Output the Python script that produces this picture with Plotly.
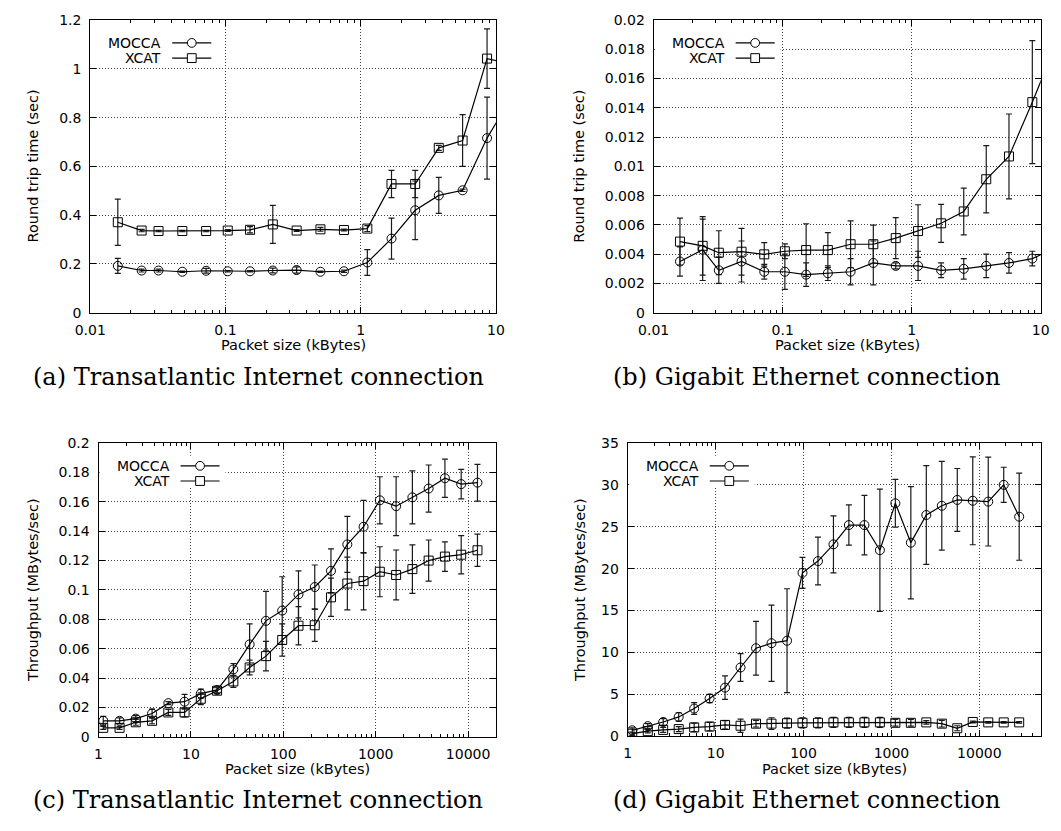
import math
import plotly.graph_objects as go

# ---------------------------------------------------------------- data
# packet sizes (kBytes) for the round-trip-time measurements
size_rtt = [0.016, 0.024, 0.032, 0.048, 0.072, 0.104, 0.152, 0.224, 0.336,
            0.504, 0.752, 1.12, 1.69, 2.53, 3.78, 5.67, 8.6, 12.9]

# (a) transatlantic internet: round trip time (sec)
rtt_mocca_a = [0.192, 0.173, 0.173, 0.168, 0.172, 0.170, 0.170, 0.173, 0.175,
               0.168, 0.170, 0.206, 0.304, 0.420, 0.481, 0.502, 0.716, 0.88]
err_mocca_a = [0.031, 0.006, 0.006, 0.003, 0.010, 0.003, 0.003, 0.010, 0.013,
               0.003, 0.005, 0.053, 0.084, 0.120, 0.074, 0.005, 0.168, 0.10]
rtt_xcat_a = [0.371, 0.337, 0.335, 0.335, 0.335, 0.337, 0.340, 0.362, 0.337,
              0.342, 0.339, 0.345, 0.528, 0.528, 0.676, 0.706, 1.042, 1.02]
err_xcat_a = [0.095, 0.005, 0.003, 0.003, 0.003, 0.004, 0.013, 0.078, 0.004,
              0.008, 0.004, 0.012, 0.056, 0.056, 0.010, 0.106, 0.122, 0.10]

# (b) gigabit ethernet: round trip time (sec)
rtt_mocca_b = [0.0035, 0.0043, 0.0029, 0.0035, 0.0028, 0.0028, 0.0026, 0.0027,
               0.0028, 0.0034, 0.0032, 0.0032, 0.0029, 0.0030, 0.0032, 0.0034,
               0.0037, 0.0044]
err_mocca_b = [0.0010, 0.0021, 0.0009, 0.0014, 0.0005, 0.0012, 0.0008, 0.0005,
               0.0009, 0.0015, 0.0002, 0.0010, 0.0005, 0.0007, 0.0008, 0.0007,
               0.0005, 0.0005]
rtt_xcat_b = [0.00486, 0.00457, 0.00410, 0.00417, 0.00399, 0.00420, 0.00428,
              0.00428, 0.00468, 0.00468, 0.00510, 0.00558, 0.00611, 0.00692,
              0.00912, 0.01068, 0.01439, 0.0182]
err_xcat_b = [0.0016, 0.0020, 0.0015, 0.0016, 0.0008, 0.0005, 0.0018, 0.0012,
              0.0016, 0.0013, 0.0014, 0.0018, 0.0013, 0.0016, 0.0023, 0.0029,
              0.0042, 0.0030]

# packet sizes (kBytes) for the throughput measurements
size_thr_c = [1.125, 1.69, 2.53, 3.8, 5.7, 8.54, 12.8, 19.2, 28.8, 43.2, 64.9,
              97.3, 146, 219, 328, 493, 739, 1108, 1663, 2494, 3741, 5612,
              8418, 12627]
size_thr_d = size_thr_c + [18941, 28412]

# (c) transatlantic internet: throughput (MBytes/sec)
thr_mocca_c = [0.011, 0.011, 0.0125, 0.016, 0.023, 0.024, 0.0295, 0.032, 0.046,
               0.063, 0.079, 0.086, 0.097, 0.102, 0.113, 0.131, 0.143, 0.161,
               0.157, 0.163, 0.169, 0.176, 0.172, 0.173]
err_mocca_c = [0.003, 0.002, 0.002, 0.003, 0.001, 0.005, 0.003, 0.002, 0.004,
               0.014, 0.020, 0.023, 0.016, 0.015, 0.015, 0.019, 0.018, 0.016,
               0.020, 0.018, 0.016, 0.013, 0.010, 0.0125]
thr_xcat_c = [0.0062, 0.0062, 0.010, 0.011, 0.0167, 0.0167, 0.026, 0.0315,
              0.0378, 0.0473, 0.055, 0.066, 0.0757, 0.076, 0.095, 0.1044, 0.106,
              0.1124, 0.1102, 0.1142, 0.120, 0.1227, 0.124, 0.127]
err_xcat_c = [0.001, 0.001, 0.002, 0.002, 0.002, 0.003, 0.004, 0.002, 0.004,
              0.005, 0.010, 0.011, 0.013, 0.011, 0.013, 0.018, 0.0195, 0.017,
              0.017, 0.0165, 0.014, 0.010, 0.013, 0.011]

# (d) gigabit ethernet: throughput (MBytes/sec)
thr_mocca_d = [0.7, 1.2, 1.7, 2.3, 3.3, 4.5, 5.8, 8.2, 10.5, 11.1, 11.4, 19.5,
               20.9, 22.9, 25.2, 25.2, 22.2, 27.8, 23.1, 26.4, 27.5, 28.2, 28.1,
               28.0, 30.0, 26.2]
err_mocca_d = [0.3, 0.3, 0.4, 0.5, 0.7, 0.5, 1.4, 1.65, 3.2, 4.55, 6.2, 1.85,
               2.85, 3.4, 2.4, 3.55, 7.3, 2.85, 6.7, 5.9, 5.3, 3.75, 5.25, 5.3,
               2.1, 5.2]
thr_xcat_d = [0.3, 0.6, 0.75, 0.85, 1.05, 1.15, 1.35, 1.25, 1.5, 1.5, 1.55, 1.6,
              1.6, 1.65, 1.65, 1.65, 1.65, 1.6, 1.6, 1.65, 1.5, 0.95, 1.7, 1.65,
              1.65, 1.65]
err_xcat_d = [0.2, 0.2, 0.3, 0.3, 0.5, 0.5, 0.5, 0.8, 0.4, 0.7, 0.6, 0.6, 0.6,
              0.6, 0.6, 0.6, 0.6, 0.4, 0.4, 0.2, 0.4, 0.3, 0.1, 0.1, 0.1, 0.1]

# tick labels
xt_rtt = ["0.01", "0.1", "1", "10"]
xt_thr = ["1", "10", "100", "1000", "10000"]
yt_a = ["0", "0.2", "0.4", "0.6", "0.8", "1", "1.2"]
yt_b = ["0", "0.002", "0.004", "0.006", "0.008", "0.01", "0.012", "0.014",
        "0.016", "0.018", "0.02"]
yt_c = ["0", "0.02", "0.04", "0.06", "0.08", "0.1", "0.12", "0.14", "0.16",
        "0.18", "0.2"]
yt_d = ["0", "5", "10", "15", "20", "25", "30", "35"]

series_names = ["MOCCA", "XCAT"]
captions = ["(a) Transatlantic Internet connection",
            "(b) Gigabit Ethernet connection",
            "(c) Transatlantic Internet connection",
            "(d) Gigabit Ethernet connection"]
xtitle = "Packet size (kBytes)"
ytitle_rtt = "Round trip time (sec)"
ytitle_thr = "Throughput (MBytes/sec)"

# ---------------------------------------------------------------- layout
W, H = 1061, 831
SANS = "DejaVu Sans"
SERIF = "DejaVu Serif"


def fx(p):
    return p / W


def fy(p):
    return 1 - p / H


# plot-area boxes in pixels: left, right, top, bottom
boxes = {
    "a": (76.0, 491.5, 12.3, 310.7),
    "b": (653.0, 1049.5, 12.3, 310.7),
    "c": (84.5, 491.5, 443.5, 743.3),
    "d": (626.5, 1049.5, 443.5, 742.5),
}

panels = [
    dict(key="a", x=size_rtt, ys=[(rtt_mocca_a, err_mocca_a), (rtt_xcat_a, err_xcat_a)],
         xrange=[-2, 1], xtv=[0.01, 0.1, 1, 10], xtt=xt_rtt,
         yrange=[0, 1.2], ytt=yt_a, ytitle=ytitle_rtt, ytx=17.5),
    dict(key="b", x=size_rtt, ys=[(rtt_mocca_b, err_mocca_b), (rtt_xcat_b, err_xcat_b)],
         xrange=[-2, 1], xtv=[0.01, 0.1, 1, 10], xtt=xt_rtt,
         yrange=[0, 0.02], ytt=yt_b, ytitle=ytitle_rtt, ytx=577),
    dict(key="c", x=size_thr_c, ys=[(thr_mocca_c, err_mocca_c), (thr_xcat_c, err_xcat_c)],
         xrange=[0, 4.30103], xtv=[1, 10, 100, 1000, 10000], xtt=xt_thr,
         yrange=[0, 0.2], ytt=yt_c, ytitle=ytitle_thr, ytx=17.5),
    dict(key="d", x=size_thr_d, ys=[(thr_mocca_d, err_mocca_d), (thr_xcat_d, err_xcat_d)],
         xrange=[0, 4.69897], xtv=[1, 10, 100, 1000, 10000], xtt=xt_thr,
         yrange=[0, 35], ytt=yt_d, ytitle=ytitle_thr, ytx=577),
]
caption_pos = [(248, 376), (810, 376), (248, 808), (810, 808)]

symbols = ["circle-open", "square-open"]
grid_dash = "1px,2px"

fig = go.Figure()
layout = dict(
    width=W, height=H, margin=dict(l=0, r=0, t=0, b=0),
    paper_bgcolor="white", plot_bgcolor="white", showlegend=False,
    font=dict(family=SANS, size=14, color="black"),
)
shapes, annotations = [], []

for i, p in enumerate(panels):
    n = "" if i == 0 else str(i + 1)
    L, R, T, B = boxes[p["key"]]
    xa, ya = "x" + n, "y" + n

    for (vals, errs), sym, name in zip(p["ys"], symbols, series_names):
        fig.add_trace(go.Scatter(
            x=p["x"], y=vals, name=name, xaxis=xa, yaxis=ya,
            mode="lines+markers",
            line=dict(color="black", width=1.2),
            marker=dict(symbol=sym, size=9, color="black",
                        line=dict(color="black", width=1)),
            error_y=dict(type="data", array=errs, visible=True,
                         color="#1a1a1a", thickness=1.2, width=3),
        ))

    lo, hi = p["xrange"]
    minor_vals = [m * 10 ** e for e in range(int(lo) - 1, int(hi) + 2)
                  for m in range(2, 10)
                  if lo <= e + math.log10(m) <= hi]
    ystep = (p["yrange"][1] - p["yrange"][0]) / (len(p["ytt"]) - 1)
    ytv = [p["yrange"][0] + k * ystep for k in range(len(p["ytt"]))]

    common = dict(
        showline=True, linecolor="black", linewidth=1, mirror="allticks",
        ticks="inside", ticklen=6, tickcolor="black", tickwidth=1,
        showgrid=True, gridcolor="#444", gridwidth=1, griddash=grid_dash,
        zeroline=False, tickmode="array",
        tickfont=dict(family=SANS, size=14, color="black"),
    )
    layout["xaxis" + n] = dict(
        common, type="log", range=p["xrange"], domain=[fx(L), fx(R)],
        anchor=ya, tickvals=p["xtv"], ticktext=p["xtt"], ticklabelstandoff=4,
        minor=dict(tickmode="array", tickvals=minor_vals, ticks="inside",
                   ticklen=3, tickcolor="black", showgrid=False),
    )
    layout["yaxis" + n] = dict(
        common, range=p["yrange"], domain=[fy(B), fy(T)], anchor=xa,
        tickvals=ytv, ticktext=p["ytt"], ticklabelstandoff=5,
    )

    # axis titles
    annotations.append(dict(text=xtitle, xref="paper", yref="paper",
                            x=fx((L + R) / 2), y=fy(B + 33), showarrow=False,
                            xanchor="center", yanchor="middle",
                            font=dict(family=SANS, size=14.5)))
    annotations.append(dict(text=p["ytitle"], xref="paper", yref="paper",
                            x=fx(p["ytx"]), y=fy((T + B) / 2), showarrow=False,
                            textangle=-90, xanchor="center", yanchor="middle",
                            font=dict(family=SANS, size=14.5)))

    # key box in the upper-left corner
    shapes.append(dict(type="rect", xref="paper", yref="paper", layer="above",
                       x0=fx(L + 1), x1=fx(L + 130), y0=fy(T + 46), y1=fy(T + 13),
                       fillcolor="white", line=dict(width=0)))
    for r, (name, sym) in enumerate(zip(series_names, symbols)):
        yy = T + 23.3 + r * 15.5
        annotations.append(dict(text=name, xref="paper", yref="paper",
                                x=fx(L + 75), y=fy(yy), showarrow=False,
                                xanchor="right", yanchor="middle",
                                font=dict(family=SANS, size=14)))
        shapes.append(dict(type="line", xref="paper", yref="paper", layer="above",
                           x0=fx(L + 84), x1=fx(L + 124), y0=fy(yy), y1=fy(yy),
                           line=dict(color="black", width=1.2)))
        cx, rr = L + 104, 4.5
        shapes.append(dict(type="circle" if sym.startswith("circle") else "rect",
                           xref="paper", yref="paper", layer="above",
                           x0=fx(cx - rr), x1=fx(cx + rr),
                           y0=fy(yy + rr), y1=fy(yy - rr),
                           fillcolor="white", line=dict(color="black", width=1)))

for text, (cx, cy) in zip(captions, caption_pos):
    annotations.append(dict(text=text, xref="paper", yref="paper",
                            x=fx(cx), y=fy(cy), showarrow=False,
                            xanchor="center", yanchor="middle",
                            font=dict(family=SERIF, size=24, color="black")))

layout["shapes"] = shapes
layout["annotations"] = annotations
fig.update_layout(**layout)

# the figure fills the window exactly, so drop the page's default body margin
fig.write_html("out.html",
               post_script="document.body.style.margin='0';"
                           "document.body.style.overflow='hidden';")
